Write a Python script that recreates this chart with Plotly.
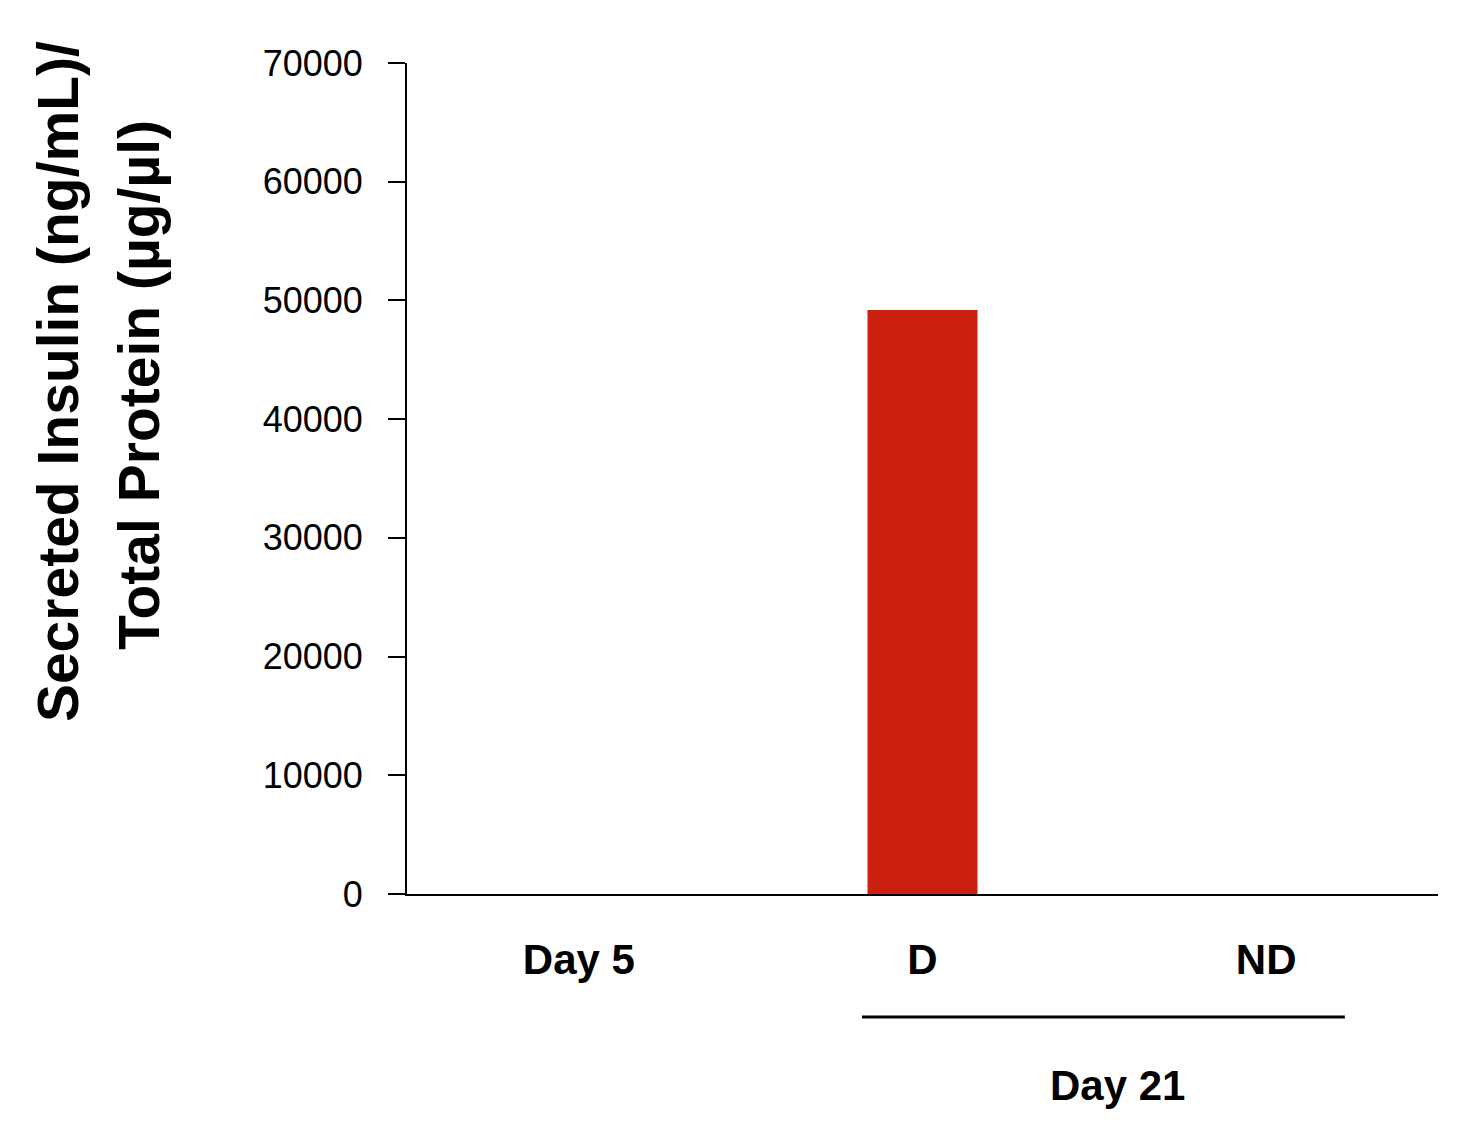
import plotly.graph_objects as go

# values
categories = ["Day 5", "D", "ND"]
insulin = [0, 49200, 0]
y_ticks = [0, 10000, 20000, 30000, 40000, 50000, 60000, 70000]

sans = "Liberation Sans, Arial, sans-serif"

fig = go.Figure()
fig.add_trace(go.Bar(x=categories, y=insulin,
                     marker=dict(color="#CB1F10", line=dict(width=0)),
                     width=0.32))

# page body has an 8px margin, so the figure is 16px smaller than the window
fig.update_layout(width=1450, height=1120,
                  margin=dict(l=399, r=20, t=55, b=234),
                  paper_bgcolor="white", plot_bgcolor="white",
                  showlegend=False,
                  font=dict(family=sans, color="black"))

fig.update_yaxes(range=[0, 70000], tickvals=y_ticks, tickformat="d",
                 ticks="outside", ticklen=17, tickwidth=2, tickcolor="black",
                 showline=True, linecolor="black", linewidth=2,
                 showgrid=False, zeroline=False,
                 tickfont=dict(family=sans, size=36, color="black"),
                 ticklabelstandoff=18)
fig.update_xaxes(showline=True, linecolor="black", linewidth=2,
                 ticks="", showgrid=False,
                 tickfont=dict(family=sans, size=42, color="black", weight="bold"),
                 ticklabelstandoff=28)

# two-line y title
fig.add_annotation(text="Secreted Insulin (ng/mL)/", textangle=-90,
                   xref="paper", yref="paper", x=-0.3385, y=0.616,
                   xanchor="center", yanchor="middle", showarrow=False,
                   font=dict(family=sans, size=57, color="black", weight="bold"))
fig.add_annotation(text="Total Protein (µg/µl)", textangle=-90,
                   xref="paper", yref="paper", x=-0.2599, y=0.6125,
                   xanchor="center", yanchor="middle", showarrow=False,
                   font=dict(family=sans, size=57, color="black", weight="bold"))

# bracket for Day 21 group
fig.add_shape(type="line", xref="x", yref="paper",
              x0=0.824, x1=2.229, y0=-0.148, y1=-0.148,
              line=dict(color="black", width=3))
fig.add_annotation(text="Day 21", xref="x", yref="paper", x=1.566, y=-0.231,
                   xanchor="center", yanchor="middle", showarrow=False,
                   font=dict(family=sans, size=42, color="black", weight="bold"))

fig.write_html("out.html")
